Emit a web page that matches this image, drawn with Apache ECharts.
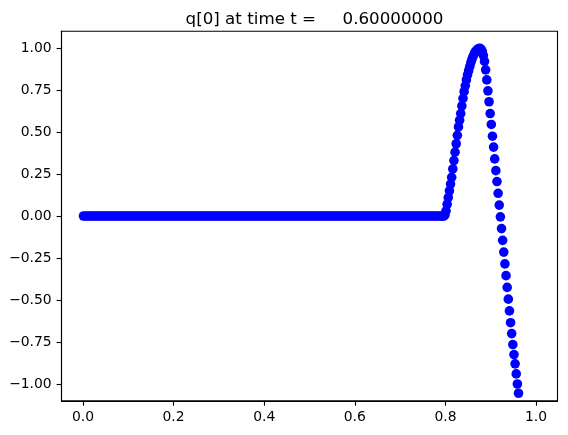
<!DOCTYPE html>
<html>
<head>
<meta charset="utf-8">
<script src="https://cdn.jsdelivr.net/npm/echarts@6/dist/echarts.min.js"></script>
<style>html,body{margin:0;padding:0;background:#fff;}#c{width:568px;height:435px;}</style>
</head>
<body>
<div id="c"></div>
<script>
// Flat part of the solution (q = 0)
const xFlat = [
0.00125,0.00625,0.01125,0.01625,0.02125,0.02625,0.03125,0.03625,0.04125,0.04625,
0.05125,0.05625,0.06125,0.06625,0.07125,0.07625,0.08125,0.08625,0.09125,0.09625,
0.10125,0.10625,0.11125,0.11625,0.12125,0.12625,0.13125,0.13625,0.14125,0.14625,
0.15125,0.15625,0.16125,0.16625,0.17125,0.17625,0.18125,0.18625,0.19125,0.19625,
0.20125,0.20625,0.21125,0.21625,0.22125,0.22625,0.23125,0.23625,0.24125,0.24625,
0.25125,0.25625,0.26125,0.26625,0.27125,0.27625,0.28125,0.28625,0.29125,0.29625,
0.30125,0.30625,0.31125,0.31625,0.32125,0.32625,0.33125,0.33625,0.34125,0.34625,
0.35125,0.35625,0.36125,0.36625,0.37125,0.37625,0.38125,0.38625,0.39125,0.39625,
0.40125,0.40625,0.41125,0.41625,0.42125,0.42625,0.43125,0.43625,0.44125,0.44625,
0.45125,0.45625,0.46125,0.46625,0.47125,0.47625,0.48125,0.48625,0.49125,0.49625,
0.50125,0.50625,0.51125,0.51625,0.52125,0.52625,0.53125,0.53625,0.54125,0.54625,
0.55125,0.55625,0.56125,0.56625,0.57125,0.57625,0.58125,0.58625,0.59125,0.59625,
0.60125,0.60625,0.61125,0.61625,0.62125,0.62625,0.63125,0.63625,0.64125,0.64625,
0.65125,0.65625,0.66125,0.66625,0.67125,0.67625,0.68125,0.68625,0.69125,0.69625,
0.70125,0.70625,0.71125,0.71625,0.72125,0.72625,0.73125,0.73625,0.74125,0.74625,
0.75125,0.75625,0.76125,0.76625,0.77125,0.77625,0.78125,0.78625,0.79125
];
const qFlat = [
0,0,0,0,0,0,0,0,0,0, 0,0,0,0,0,0,0,0,0,0,
0,0,0,0,0,0,0,0,0,0, 0,0,0,0,0,0,0,0,0,0,
0,0,0,0,0,0,0,0,0,0, 0,0,0,0,0,0,0,0,0,0,
0,0,0,0,0,0,0,0,0,0, 0,0,0,0,0,0,0,0,0,0,
0,0,0,0,0,0,0,0,0,0, 0,0,0,0,0,0,0,0,0,0,
0,0,0,0,0,0,0,0,0,0, 0,0,0,0,0,0,0,0,0,0,
0,0,0,0,0,0,0,0,0,0, 0,0,0,0,0,0,0,0,0,0,
0,0,0,0,0,0,0,0,0,0, 0,0,0,0,0,0,0,0,0
];
// Wave part
const xWave = [
0.79375,0.79625,0.79875,0.80125,0.80375,0.80625,0.80875,0.81125,0.81375,0.81625,
0.81875,0.82125,0.82375,0.82625,0.82875,0.83125,0.83375,0.83625,0.83875,0.84125,
0.84375,0.84625,0.84875,0.85125,0.85375,0.85625,0.85875,0.86125,0.86375,0.86625,
0.86875,0.87125,0.87375,0.87625,0.87875,0.88125,0.88375,0.88625,0.88875,0.89125,
0.89375,0.89625,0.89875,0.90125,0.90375,0.90625,0.90875,0.91125,0.91375,0.91625,
0.91875,0.92125,0.92375,0.92625,0.92875,0.93125,0.93375,0.93625,0.93875,0.94125,
0.94375,0.94625,0.94875,0.95125,0.95375,0.95625,0.95875,0.96125,0.96375
];
const qWave = [
0,0,0.005,0.03,0.07,0.11,0.15,0.19,0.23,0.28,
0.33,0.38,0.43,0.48,0.53,0.57,0.61,0.655,0.70,0.74,
0.775,0.81,0.84,0.865,0.89,0.915,0.935,0.952,0.966,0.978,
0.987,0.993,0.997,0.998,0.993,0.98,0.955,0.92,0.87,0.81,
0.745,0.68,0.61,0.545,0.475,0.41,0.34,0.27,0.205,0.135,
0.065,-0.005,-0.075,-0.145,-0.215,-0.285,-0.355,-0.425,-0.495,-0.565,
-0.635,-0.70,-0.765,-0.825,-0.88,-0.94,-1.0,-1.055,-1.11
];
const xTicks = [0, 0.2, 0.4, 0.6, 0.8, 1.0];
const yTicks = [-1, -0.75, -0.5, -0.25, 0, 0.25, 0.5, 0.75, 1];
const titleText = 'q[0] at time t =     0.60000000';

const allX = xFlat.concat(xWave);
const allQ = qFlat.concat(qWave);
const points = allX.map((x, i) => [x, allQ[i]]);

const FONT = 'DejaVu Sans';
const chart = echarts.init(document.getElementById('c'), null, {renderer: 'canvas'});
chart.setOption({
  animation: false,
  backgroundColor: '#ffffff',
  title: {
    text: titleText,
    left: 309.5,
    textAlign: 'center',
    top: 6,
    textStyle: {fontFamily: FONT, fontSize: 16.7, fontWeight: 'normal', color: '#000'}
  },
  grid: {
    left: 61.5, right: 10.5, top: 31.2, bottom: 34.2,
    show: true, borderColor: '#000', borderWidth: 1.1, backgroundColor: 'transparent',
    containLabel: false
  },
  xAxis: {
    type: 'value',
    min: -0.0473, max: 1.0473,
    axisLine: {show: true, onZero: false, lineStyle: {color: '#000', width: 1.1}},
    axisTick: {show: true, inside: false, length: 4.9, lineStyle: {color: '#000', width: 1.1}, customValues: xTicks},
    axisLabel: {
      show: true, margin: 10, color: '#000', fontFamily: FONT, fontSize: 13.9,
      customValues: xTicks,
      formatter: v => v.toFixed(1)
    },
    splitLine: {show: false}
  },
  yAxis: {
    type: 'value',
    min: -1.1, max: 1.1,
    axisLine: {show: true, onZero: false, lineStyle: {color: '#000', width: 1.1}},
    axisTick: {show: true, inside: false, length: 4.9, lineStyle: {color: '#000', width: 1.1}, customValues: yTicks},
    axisLabel: {
      show: true, margin: 9.8, color: '#000', fontFamily: FONT, fontSize: 13.9,
      customValues: yTicks,
      formatter: v => (v < 0 ? '\u2212' + Math.abs(v).toFixed(2) : v.toFixed(2))
    },
    splitLine: {show: false}
  },
  series: [{
    type: 'scatter',
    data: points,
    symbol: 'circle',
    symbolSize: 9.6,
    clip: true,
    itemStyle: {color: '#0000ff', opacity: 1},
    emphasis: {disabled: true}
  }]
});
</script>
</body>
</html>
